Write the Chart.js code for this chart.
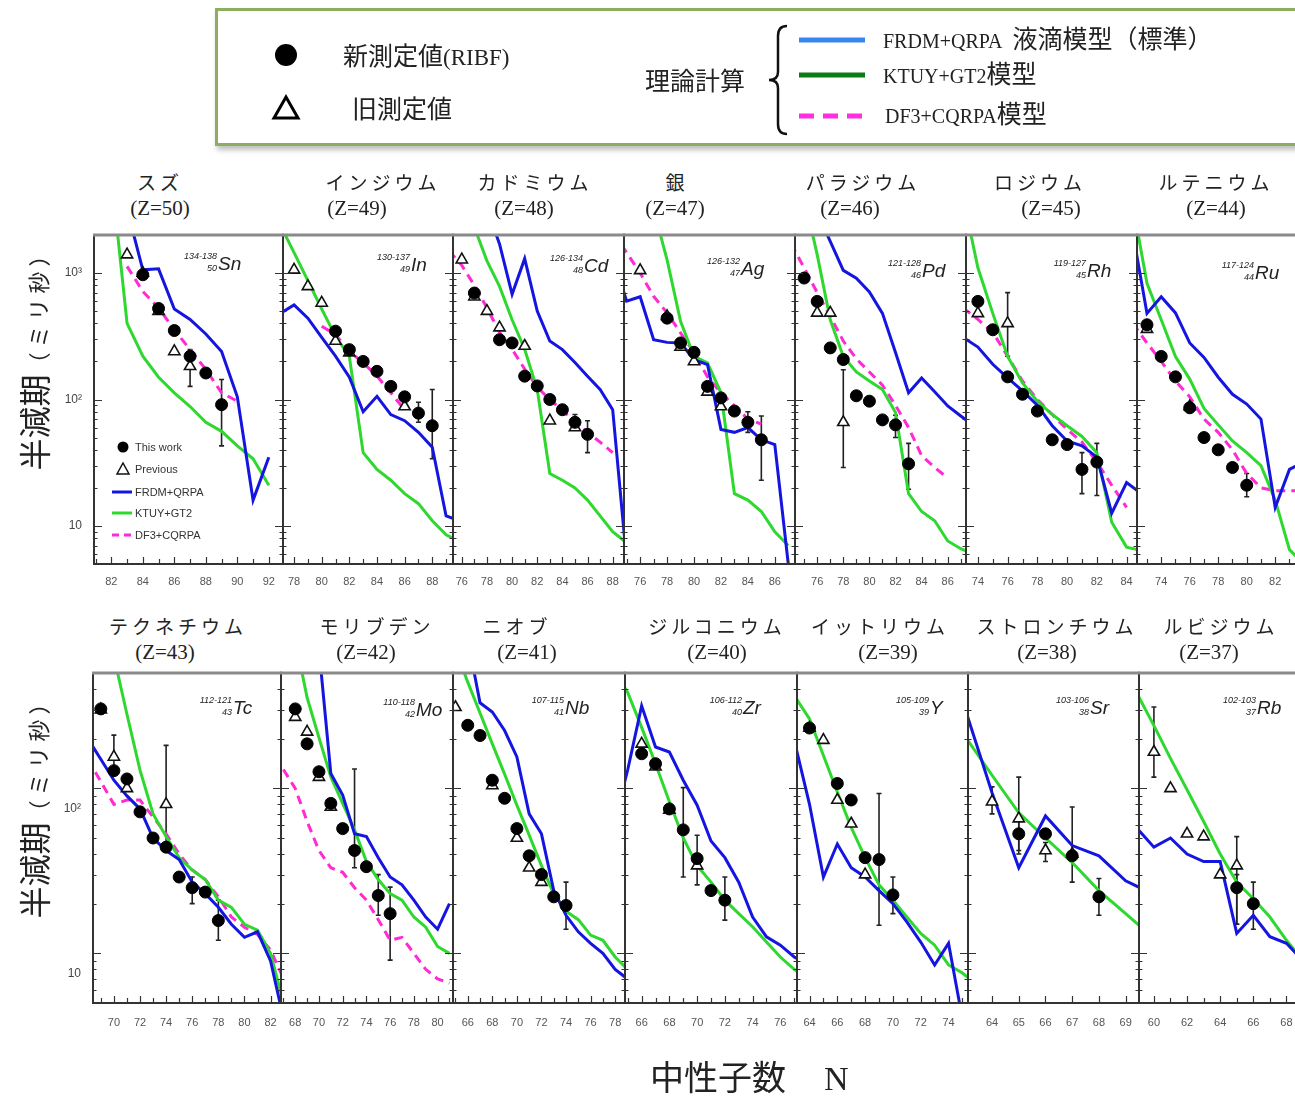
<!DOCTYPE html>
<html><head><meta charset="utf-8">
<script src="https://cdn.jsdelivr.net/npm/chart.js@4/dist/chart.umd.min.js"></script>
<style>
html,body{margin:0;padding:0;background:#fff;}
body{width:1295px;height:1096px;overflow:hidden;position:relative;font-family:"Liberation Serif","Noto Sans CJK JP",serif;color:#222;}
.t{position:absolute;white-space:nowrap;}
.jp{font-family:"Liberation Serif","Noto Sans CJK JP",serif;font-size:20px;line-height:28px;}
.jp .c{font-family:"Noto Sans CJK JP",sans-serif;font-size:25px;}
.box{position:absolute;left:215px;top:8px;width:1120px;height:132px;border:3px solid #8fad5e;box-shadow:2px 4px 5px rgba(0,0,0,0.25);}
.ttl{position:absolute;white-space:nowrap;transform:translateX(-50%);font-family:"Noto Sans CJK JP",sans-serif;font-size:19px;line-height:22px;letter-spacing:4px;color:#222;}
.ztl{position:absolute;white-space:nowrap;transform:translateX(-50%);font-family:"Liberation Serif",serif;font-size:21px;line-height:22px;color:#222;}
.iso{position:absolute;font:italic 19px "Liberation Sans",sans-serif;line-height:22px;color:#222;}
.iso .pre{position:absolute;right:100%;top:-3px;display:flex;flex-direction:column;align-items:flex-end;font-size:9px;line-height:12px;padding-right:1px;white-space:nowrap;}
.lg{position:absolute;font:11px "Liberation Sans",sans-serif;color:#333;white-space:nowrap;line-height:12px;}
canvas{position:absolute;}
</style></head>
<body>
<script>
// ---------------- DATA (N, half-life in ms) ----------------
// Sn Z=50
const snTicks=[82,84,86,88,90,92];
const snThis=[[84,970],[85,525],[86,351],[87,220],[88,162],[89,91]];
const snThisErr=[[89,43,144]];
const snPrev=[[83,1400],[84,1000],[85,500],[86,240],[87,183]];
const snPrevErr=[[87,127,248]];
const snFrdm=[[83,3200],[84,1060],[85,1080],[86,520],[87,430],[88,330],[89,240],[90,105],[91,16],[92,35]];
const snKtuy=[[82,6000],[83,400],[84,220],[85,150],[86,113],[87,88],[88,66],[89,56],[90,43],[91,34],[92,21]];
const snDf3=[[83,1130],[84,715],[85,530],[86,356],[87,248],[88,173],[89,113],[90,97]];
// In Z=49
const inTicks=[78,80,82,84,86,88];
const inThis=[[81,347],[82,248],[83,200],[84,167],[85,127],[86,105],[87,78],[88,62]];
const inThisErr=[[87,66,95],[88,34,120]];
const inPrev=[[78,1060],[79,785],[80,580],[81,290],[82,235],[86,88]];
const inPrevErr=[];
const inFrdm=[[77,480],[78,560],[79,440],[80,310],[81,220],[82,150],[83,80],[84,106],[85,76],[86,68],[87,55],[88,42],[89,12],[90,11]];
const inKtuy=[[77,2400],[78,1450],[79,870],[80,520],[81,316],[82,219],[83,38],[84,28],[85,23],[86,18],[87,15],[88,11],[89,8.5],[90,7.5]];
const inDf3=[[80,380],[81,326],[82,240],[83,195],[84,153],[85,113],[86,83]];
// Cd Z=48
const cdTicks=[76,78,80,82,84,86,88];
const cdThis=[[77,695],[79,297],[80,280],[81,153],[82,128],[83,100],[84,83],[85,66],[86,53]];
const cdThisErr=[[85,58,76],[86,38,68]];
const cdPrev=[[76,1275],[77,650],[78,500],[79,370],[81,265],[83,68],[85,60]];
const cdPrevErr=[];
const cdFrdm=[[78,3200],[79,1700],[80,680],[81,1300],[82,500],[83,290],[84,248],[85,196],[86,153],[87,120],[88,83],[89,7]];
const cdKtuy=[[77,2300],[78,1250],[79,785],[80,427],[81,250],[82,120],[83,26],[84,23],[85,20],[86,16],[87,12],[88,9],[89,7.5]];
const cdDf3=[[75,1500],[76,1150],[77,800],[78,530],[79,340],[80,250],[81,174],[82,125],[83,100],[84,82],[85,66],[86,55],[87,46],[88,38]];
// Ag Z=47
const agTicks=[76,78,80,82,84,86];
const agThis=[[78,440],[79,280],[80,236],[81,127],[82,103],[83,81],[84,66],[85,48]];
const agThisErr=[[84,55,80],[85,23,74]];
const agPrev=[[76,1050],[78,455],[79,260],[80,200],[81,115],[82,88]];
const agPrevErr=[];
const agFrdm=[[74,1300],[75,600],[76,650],[77,297],[78,283],[79,280],[80,207],[81,189],[82,58],[83,55],[84,60],[85,48],[86,44],[87,5]];
const agKtuy=[[77,3200],[78,1270],[79,415],[80,219],[81,195],[82,113],[83,18],[84,16],[85,13],[86,9],[87,7]];
const agDf3=[[74,2100],[75,1450],[76,1000],[77,655],[78,484],[79,336],[80,235],[81,151],[82,113],[83,89],[84,70],[85,64]];
// Pd Z=46
const pdTicks=[76,78,80,82,84,86];
const pdThis=[[75,913],[76,597],[77,256],[78,207],[79,107],[80,97],[81,69],[82,63],[83,31]];
const pdThisErr=[[82,50,75],[83,19.5,45]];
const pdPrev=[[76,484],[77,484],[78,66]];
const pdPrevErr=[[78,29,172]];
const pdFrdm=[[76,3000],[77,1780],[78,1050],[79,910],[80,710],[81,480],[82,235],[83,113],[84,148],[85,115],[86,89],[87,74],[88,62]];
const pdKtuy=[[75,4000],[76,1400],[77,427],[78,219],[79,165],[80,140],[81,120],[82,79],[83,18],[84,13],[85,11],[86,7.6],[87,6.6],[88,6]];
const pdDf3=[[74,1700],[75,1100],[76,700],[77,455],[78,290],[79,210],[80,165],[81,130],[82,90],[83,60],[84,36],[85,29],[86,24]];
// Rh Z=45
const rhTicks=[74,76,78,80,82,84];
const rhThis=[[74,597],[75,356],[76,151],[77,110],[78,81],[79,48],[80,44],[81,28],[82,32]];
const rhThisErr=[[81,18,38],[82,17.4,45]];
const rhPrev=[[74,480],[76,400]];
const rhPrevErr=[[76,220,700]];
const rhFrdm=[[73,310],[74,260],[75,190],[76,148],[77,117],[78,90],[79,62],[80,47],[81,43],[82,35],[83,12.6],[84,22],[85,18]];
const rhKtuy=[[73,4000],[74,1100],[75,480],[76,219],[77,135],[78,97],[79,76],[80,62],[81,51],[82,38],[83,10.7],[84,6.8],[85,6.4]];
const rhDf3=[[73,530],[74,430],[75,340],[76,220],[77,140],[78,100],[79,76],[80,58],[81,46],[82,32],[83,21],[84,14]];
// Ru Z=44
const ruTicks=[74,76,78,80,82,84];
const ruThis=[[73,390],[74,219],[75,151],[76,86],[77,50],[78,40],[79,29],[80,21]];
const ruThisErr=[[80,17,26]];
const ruPrev=[[73,360],[76,88]];
const ruPrevErr=[];
const ruFrdm=[[72,2100],[73,480],[74,650],[75,484],[76,280],[77,215],[78,150],[79,110],[80,92],[81,70],[82,14],[83,28],[84,32]];
const ruKtuy=[[72,3500],[73,830],[74,427],[75,219],[76,145],[77,85],[78,63],[79,47],[80,38],[81,30],[82,16],[83,6.5],[84,5]];
const ruDf3=[[72,400],[73,280],[74,200],[75,140],[76,105],[77,70],[78,55],[79,40],[80,26],[81,20],[82,19],[83,19],[84,19]];
// Tc Z=43
const tcTicks=[70,72,74,76,78,80,82];
const tcThis=[[69,303],[70,128],[71,114],[72,72],[73,50],[74,44],[75,29],[76,25],[77,23.5],[78,15.8]];
const tcThisErr=[[76,20,29],[78,12,21]];
const tcPrev=[[69,300],[70,155],[71,100],[74,80]];
const tcPrevErr=[[70,128,210],[74,44,182]];
const tcFrdm=[[68,200],[69,150],[70,112],[71,90],[72,75],[73,50],[74,42],[75,37],[76,27],[77,23],[78,19],[79,15],[80,12.5],[81,13.5],[82,9],[83,4]];
const tcKtuy=[[70,630],[71,281],[72,129],[73,70],[74,51],[75,38],[76,32],[77,28],[78,21],[79,19],[80,15],[81,13.8],[82,10],[83,5]];
const tcDf3=[[68,150],[69,110],[70,80],[71,85],[72,85],[73,67],[74,53],[75,40],[76,32],[77,28],[78,22],[79,16.6],[80,14.4],[81,13],[82,10.5],[83,7]];
// Mo Z=42
const moTicks=[68,70,72,74,76,78,80];
const moThis=[[68,303],[69,186],[70,126],[71,81],[72,57],[73,42],[74,33.5],[75,22.4],[76,17.4]];
const moThisErr=[[73,33,131],[75,17,30],[76,9.1,25.2]];
const moPrev=[[68,270],[69,220],[70,117],[71,77]];
const moPrevErr=[];
const moFrdm=[[70,700],[71,123],[72,91],[73,53],[74,51],[75,38],[76,29],[77,26],[78,21],[79,16.6],[80,14],[81,20]];
const moKtuy=[[68,800],[69,355],[70,203],[71,117],[72,81],[73,56],[74,36],[75,28],[76,23],[77,21],[78,16.6],[79,14.4],[80,11],[81,10]];
const moDf3=[[67,130],[68,100],[69,63],[70,42],[71,33],[72,31],[73,25],[74,21],[75,16],[76,12],[77,12.5],[78,10],[79,8],[80,7],[81,6.6]];
// Nb Z=41
const nbTicks=[66,68,70,72,74,76,78];
const nbThis=[[66,241],[67,209],[68,112],[69,87],[70,57],[71,39],[72,30],[73,22],[74,19.5]];
const nbThisErr=[[74,14,27]];
const nbPrev=[[65,310],[68,104],[70,50],[71,33],[72,27]];
const nbPrevErr=[];
const nbFrdm=[[65,3000],[66,800],[67,330],[68,290],[69,224],[70,155],[71,70],[72,53],[73,24],[74,17],[75,13.5],[76,11.5],[77,10],[78,8],[79,7]];
const nbKtuy=[[65,700],[66,440],[67,286],[68,186],[69,122],[70,79],[71,52],[72,34],[73,23],[74,18],[75,16],[76,12.9],[77,12],[78,9.5],[79,8]];
// Zr Z=40
const zrTicks=[66,68,70,72,74,76];
const zrThis=[[66,162],[67,141],[68,75],[69,56],[70,37.5],[71,24],[72,21]];
const zrThisErr=[[69,29,101],[70,26,52],[72,15.9,29]];
const zrPrev=[[66,186],[67,135],[68,74],[70,34]];
const zrPrevErr=[];
const zrFrdm=[[64,60],[65,130],[66,316],[67,178],[68,166],[69,112],[70,79],[71,48],[72,38],[73,27],[74,16.6],[75,12.6],[76,11.2],[77,9.5],[78,8.5]];
const zrKtuy=[[64,520],[65,380],[66,234],[67,141],[68,83],[69,50],[70,34],[71,27],[72,21],[73,17.4],[74,14.5],[75,11.7],[76,9.5],[77,8],[78,7]];
// Y Z=39
const yTicks=[64,66,68,70,72,74];
const yThis=[[64,232],[66,107],[67,85],[68,38],[69,37],[70,22.6]];
const yThisErr=[[69,14.8,93],[70,17.4,29]];
const yPrev=[[64,232],[65,196],[66,85],[67,61],[68,30]];
const yPrevErr=[];
const yFrdm=[[63,180],[64,80],[65,29],[66,46],[67,33],[68,29],[69,24],[70,20],[71,15.5],[72,11.7],[73,8.5],[74,11.5],[75,4]];
const yKtuy=[[63,355],[64,263],[65,158],[66,95],[67,58],[68,38],[69,26],[70,21],[71,16.6],[72,13.2],[73,11.2],[74,8.5],[75,7.6],[76,6.5]];
// Sr Z=38
const srTicks=[64,65,66,67,68,69];
const srThis=[[65,53],[66,53],[67,39],[68,22]];
const srThisErr=[[65,42,66],[68,17,28.4]];
const srPrev=[[64,83],[65,65.5],[66,42],[67,40]];
const srPrevErr=[[64,70,102],[65,40,117],[66,36,47],[67,27,77]];
const srFrdm=[[63,300],[64,94],[65,33],[66,68],[67,45],[68,39],[69,27.5],[70,23]];
const srKtuy=[[63,205],[64,120],[65,71],[66,50],[67,35.5],[68,24],[69,17.4],[70,12.6]];
// Rb Z=37
const rbTicks=[60,62,64,66,68];
const rbThis=[[65,25],[66,20]];
const rbThisErr=[[65,15,30],[66,14,27]];
const rbPrev=[[60,166],[61,100],[62,53],[63,51],[64,30],[65,34]];
const rbPrevErr=[[60,117,311],[65,15,51]];
const rbFrdm=[[59,57],[60,44],[61,50],[62,40],[63,36],[64,36],[65,13.2],[66,17],[67,12.6],[68,11.5],[69,9]];
const rbKtuy=[[59,372],[60,240],[61,152],[62,98],[63,63],[64,40],[65,27],[66,21.4],[67,16.6],[68,12],[69,9]];

// ---------------- LAYOUT ----------------
const ROWS=[
  {top:235,h:329,min:5,max:2000,yl:[10,100,1000],off:0,xpad:11,nameY:171,zY:197},
  {top:673,h:330,min:5,max:500,yl:[10,100],off:20,xpad:13,nameY:615,zY:641}
];
const YLAB={10:'10',100:'10²',1000:'10³'};
const PANELS=[
 {row:0,first:true,left:94,right:283,xmin:80.9,xmax:92.9,xt:snTicks,th:snThis,the:snThisErr,pr:snPrev,pre:snPrevErr,fr:snFrdm,kt:snKtuy,df:snDf3,name:'スズ',z:'(Z=50)',nx:160,zx:160,sym:'Sn',mass:'134-138',zz:'50',sx:218,sy:253},
 {row:0,left:283,right:453,xmin:77.2,xmax:89.5,xt:inTicks,th:inThis,the:inThisErr,pr:inPrev,pre:inPrevErr,fr:inFrdm,kt:inKtuy,df:inDf3,name:'インジウム',z:'(Z=49)',nx:383,zx:357,sym:'In',mass:'130-137',zz:'49',sx:411,sy:254},
 {row:0,left:453,right:624,xmin:75.3,xmax:88.9,xt:cdTicks,th:cdThis,the:cdThisErr,pr:cdPrev,pre:cdPrevErr,fr:cdFrdm,kt:cdKtuy,df:cdDf3,name:'カドミウム',z:'(Z=48)',nx:535,zx:524,sym:'Cd',mass:'126-134',zz:'48',sx:584,sy:255},
 {row:0,left:624,right:795,xmin:74.8,xmax:87.5,xt:agTicks,th:agThis,the:agThisErr,pr:agPrev,pre:agPrevErr,fr:agFrdm,kt:agKtuy,df:agDf3,name:'銀',z:'(Z=47)',nx:677,zx:675,sym:'Ag',mass:'126-132',zz:'47',sx:741,sy:258},
 {row:0,left:795,right:966,xmin:74.3,xmax:87.4,xt:pdTicks,th:pdThis,the:pdThisErr,pr:pdPrev,pre:pdPrevErr,fr:pdFrdm,kt:pdKtuy,df:pdDf3,name:'パラジウム',z:'(Z=46)',nx:863,zx:850,sym:'Pd',mass:'121-128',zz:'46',sx:922,sy:260},
 {row:0,left:966,right:1137,xmin:73.2,xmax:84.7,xt:rhTicks,th:rhThis,the:rhThisErr,pr:rhPrev,pre:rhPrevErr,fr:rhFrdm,kt:rhKtuy,df:rhDf3,name:'ロジウム',z:'(Z=45)',nx:1040,zx:1051,sym:'Rh',mass:'119-127',zz:'45',sx:1087,sy:260},
 {row:0,left:1137,right:1308,xmin:72.3,xmax:84.3,xt:ruTicks,th:ruThis,the:ruThisErr,pr:ruPrev,pre:ruPrevErr,fr:ruFrdm,kt:ruKtuy,df:ruDf3,name:'ルテニウム',z:'(Z=44)',nx:1216,zx:1216,sym:'Ru',mass:'117-124',zz:'44',sx:1255,sy:262},
 {row:1,first:true,left:93,right:281,xmin:68.4,xmax:82.8,xt:tcTicks,th:tcThis,the:tcThisErr,pr:tcPrev,pre:tcPrevErr,fr:tcFrdm,kt:tcKtuy,df:tcDf3,name:'テクネチウム',z:'(Z=43)',nx:178,zx:165,sym:'Tc',mass:'112-121',zz:'43',sx:233,sy:697},
 {row:1,left:281,right:453,xmin:66.8,xmax:81.3,xt:moTicks,th:moThis,the:moThisErr,pr:moPrev,pre:moPrevErr,fr:moFrdm,kt:moKtuy,df:moDf3,name:'モリブデン',z:'(Z=42)',nx:377,zx:366,sym:'Mo',mass:'110-118',zz:'42',sx:416,sy:699},
 {row:1,left:453,right:625,xmin:64.8,xmax:78.8,xt:nbTicks,th:nbThis,the:nbThisErr,pr:nbPrev,pre:nbPrevErr,fr:nbFrdm,kt:nbKtuy,df:[],name:'ニオブ',z:'(Z=41)',nx:517,zx:527,sym:'Nb',mass:'107-115',zz:'41',sx:565,sy:697},
 {row:1,left:625,right:797,xmin:64.8,xmax:77.2,xt:zrTicks,th:zrThis,the:zrThisErr,pr:zrPrev,pre:zrPrevErr,fr:zrFrdm,kt:zrKtuy,df:[],name:'ジルコニウム',z:'(Z=40)',nx:717,zx:717,sym:'Zr',mass:'106-112',zz:'40',sx:743,sy:697},
 {row:1,left:797,right:968,xmin:63.1,xmax:75.4,xt:yTicks,th:yThis,the:yThisErr,pr:yPrev,pre:yPrevErr,fr:yFrdm,kt:yKtuy,df:[],name:'イットリウム',z:'(Z=39)',nx:880,zx:888,sym:'Y',mass:'105-109',zz:'39',sx:930,sy:697},
 {row:1,left:968,right:1139,xmin:63.1,xmax:69.5,xt:srTicks,th:srThis,the:srThisErr,pr:srPrev,pre:srPrevErr,fr:srFrdm,kt:srKtuy,df:[],name:'ストロンチウム',z:'(Z=38)',nx:1057,zx:1047,sym:'Sr',mass:'103-106',zz:'38',sx:1090,sy:697},
 {row:1,left:1139,right:1308,xmin:59.1,xmax:69.3,xt:rbTicks,th:rbThis,the:rbThisErr,pr:rbPrev,pre:rbPrevErr,fr:rbFrdm,kt:rbKtuy,df:[],name:'ルビジウム',z:'(Z=37)',nx:1221,zx:1209,sym:'Rb',mass:'102-103',zz:'37',sx:1257,sy:697}
];

const pts=a=>a.map(([x,y])=>({x,y}));

const errPlugin={id:'errbars',beforeDatasetsDraw(chart){
  const {ctx,chartArea:a,scales:{x,y}}=chart;
  ctx.save();ctx.beginPath();ctx.rect(a.left,a.top,a.width,a.height);ctx.clip();
  ctx.strokeStyle='#222';ctx.lineWidth=1.6;
  chart.data.datasets.forEach(ds=>{(ds.errs||[]).forEach(([n,lo,hi])=>{
    const px=x.getPixelForValue(n),y1=y.getPixelForValue(lo),y2=y.getPixelForValue(hi);
    ctx.beginPath();ctx.moveTo(px,y1);ctx.lineTo(px,y2);
    ctx.moveTo(px-2.5,y1);ctx.lineTo(px+2.5,y1);ctx.moveTo(px-2.5,y2);ctx.lineTo(px+2.5,y2);ctx.stroke();
  });});
  ctx.restore();
}};
const framePlugin={id:'frame',afterDraw(chart){
  const {ctx,chartArea:a,scales:{x,y}}=chart;
  ctx.save();ctx.strokeStyle='#333';ctx.lineWidth=1.2;
  for(let n=Math.ceil(x.min);n<=Math.floor(x.max);n++){
    const px=Math.round(x.getPixelForValue(n))+0.5;
    const L=x.ticks.some(t=>t.value===n)?7:5;
    ctx.beginPath();ctx.moveTo(px,a.bottom);ctx.lineTo(px,a.bottom-L);ctx.stroke();
  }
  const e0=Math.floor(Math.log10(y.min)),e1=Math.ceil(Math.log10(y.max));
  for(let e=e0;e<=e1;e++)for(let k=1;k<10;k++){
    const v=k*Math.pow(10,e);if(v<y.min||v>y.max)continue;
    const py=Math.round(y.getPixelForValue(v))+0.5,L=k===1?8:3.5;
    ctx.beginPath();ctx.moveTo(a.left,py);ctx.lineTo(a.left+L,py);ctx.moveTo(a.right,py);ctx.lineTo(a.right-L,py);ctx.stroke();
  }
  ctx.lineWidth=2;ctx.strokeStyle='#333';
  ctx.beginPath();ctx.moveTo(a.left,a.top);ctx.lineTo(a.left,a.bottom);ctx.lineTo(a.right,a.bottom);ctx.lineTo(a.right,a.top);ctx.stroke();
  ctx.lineWidth=3;ctx.strokeStyle='#8a8a8a';
  ctx.beginPath();ctx.moveTo(a.left-1,a.top);ctx.lineTo(a.right+1,a.top);ctx.stroke();
  ctx.restore();
}};

function buildPanel(p){
  const row=ROWS[p.row];
  const W=p.right-p.left,H=row.h;
  const padL=p.first?54:2,padT=3,padR=2,padB=30;
  const cv=document.createElement('canvas');
  cv.width=padL+W+padR;cv.height=padT+H+padB;
  cv.style.left=(p.left-padL)+'px';cv.style.top=(row.top-padT)+'px';
  cv.style.width=cv.width+'px';cv.style.height=cv.height+'px';
  document.body.appendChild(cv);
  const datasets=[
    {label:'This work',data:pts(p.th),errs:p.the,pointStyle:'circle',pointRadius:6,backgroundColor:'#000',borderColor:'#000',borderWidth:1},
    {label:'Previous',data:pts(p.pr),errs:p.pre,pointStyle:'triangle',pointRadius:6.5,backgroundColor:'#fff',borderColor:'#111',borderWidth:1.6},
    {label:'FRDM+QRPA',data:pts(p.fr),showLine:true,pointRadius:0,borderColor:'#1515e0',borderWidth:3,tension:0},
    {label:'KTUY+GT2',data:pts(p.kt),showLine:true,pointRadius:0,borderColor:'#2fd82f',borderWidth:3,tension:0},
    {label:'DF3+CQRPA',data:pts(p.df),showLine:true,pointRadius:0,borderColor:'#ff2ad4',borderWidth:3,borderDash:[9,6],tension:0}
  ];
  new Chart(cv,{type:'scatter',data:{datasets},
    options:{responsive:false,animation:false,devicePixelRatio:1,
      layout:{autoPadding:false,padding:{left:0,right:padR,top:padT,bottom:0}},
      plugins:{legend:{display:false},tooltip:{enabled:false},title:{display:false}},
      scales:{
        x:{type:'linear',min:p.xmin,max:p.xmax,offset:false,grid:{display:false,drawTicks:false},border:{display:false},
          afterFit(s){s.height=padB;s.paddingLeft=0;s.paddingRight=0;},afterBuildTicks(s){s.ticks=p.xt.map(v=>({value:v}));},
          ticks:{autoSkip:false,maxRotation:0,padding:row.xpad,color:'#555',font:{family:'Liberation Sans',size:11},callback:v=>String(v)}},
        y:{type:'logarithmic',min:row.min,max:row.max,grid:{display:false,drawTicks:false},border:{display:false},
          afterFit(s){s.width=padL;s.paddingTop=0;s.paddingBottom=0;},afterBuildTicks(s){s.ticks=row.yl.map(v=>({value:v}));},
          ticks:{display:!!p.first,autoSkip:false,padding:12,labelOffset:row.off,color:'#444',font:{family:'Liberation Sans',size:12},callback:v=>YLAB[v]||''}}
      }},
    plugins:[errPlugin,framePlugin]});
  const n=document.createElement('div');n.className='ttl';n.style.left=p.nx+'px';n.style.top=row.nameY+'px';n.textContent=p.name;document.body.appendChild(n);
  const z=document.createElement('div');z.className='ztl';z.style.left=p.zx+'px';z.style.top=row.zY+'px';z.textContent=p.z;document.body.appendChild(z);
  const iso=document.createElement('div');iso.className='iso';iso.style.left=p.sx+'px';iso.style.top=p.sy+'px';
  iso.innerHTML='<span class="pre"><span>'+p.mass+'</span><span>'+p.zz+'</span></span>'+p.sym;
  document.body.appendChild(iso);
}
PANELS.forEach(buildPanel);
</script>

<div class="box"></div>
<svg style="position:absolute;left:0;top:0;pointer-events:none" width="1295" height="1096">
  <circle cx="286" cy="55" r="11" fill="#000"/>
  <polygon points="286,97 274,118 298,118" fill="#fff" stroke="#000" stroke-width="3"/>
  <path d="M787 26 Q778 26 778 36 L778 72 Q778 80 769 80 Q778 80 778 88 L778 124 Q778 134 787 134" fill="none" stroke="#111" stroke-width="2.5"/>
  <line x1="799" y1="40" x2="865" y2="40" stroke="#3a86f0" stroke-width="5"/>
  <line x1="799" y1="75" x2="865" y2="75" stroke="#0c7c12" stroke-width="5"/>
  <line x1="799" y1="116" x2="865" y2="116" stroke="#ff2ee0" stroke-width="5" stroke-dasharray="15 9"/>
  <circle cx="123" cy="447" r="5.5" fill="#000"/>
  <polygon points="123,463 117,474 129,474" fill="#fff" stroke="#111" stroke-width="1.5"/>
  <line x1="112" y1="492" x2="132" y2="492" stroke="#1515e0" stroke-width="3"/>
  <line x1="112" y1="513" x2="132" y2="513" stroke="#2fd82f" stroke-width="3"/>
  <line x1="112" y1="535" x2="132" y2="535" stroke="#ff2ad4" stroke-width="3" stroke-dasharray="7 5"/>
</svg>
<div class="t jp" style="left:343px;top:40px;"><span class="c">新測定値</span><span style="font-size:23px;">(RIBF)</span></div>
<div class="t jp" style="left:352px;top:93px;"><span class="c">旧測定値</span></div>
<div class="t jp" style="left:645px;top:65px;"><span class="c">理論計算</span></div>
<div class="t jp" style="left:883px;top:23px;">FRDM+QRPA&nbsp; <span class="c">液滴模型（標準）</span></div>
<div class="t jp" style="left:883px;top:58px;">KTUY+GT2<span class="c">模型</span></div>
<div class="t jp" style="left:885px;top:98px;">DF3+CQRPA<span class="c">模型</span></div>

<div class="lg" style="left:135px;top:441px;">This work</div>
<div class="lg" style="left:135px;top:463px;">Previous</div>
<div class="lg" style="left:135px;top:486px;">FRDM+QRPA</div>
<div class="lg" style="left:135px;top:507px;">KTUY+GT2</div>
<div class="lg" style="left:135px;top:529px;">DF3+CQRPA</div>

<div class="t" style="left:33px;top:355px;transform:translate(-50%,-50%) rotate(-90deg);font-family:'Noto Sans CJK JP',sans-serif;color:#222;"><span style="font-size:32px;">半減期</span><span style="font-size:22px;letter-spacing:5px;">（ミリ秒）</span></div>
<div class="t" style="left:33px;top:803px;transform:translate(-50%,-50%) rotate(-90deg);font-family:'Noto Sans CJK JP',sans-serif;color:#222;"><span style="font-size:32px;">半減期</span><span style="font-size:22px;letter-spacing:5px;">（ミリ秒）</span></div>
<div class="t" style="left:650px;top:1057px;font-size:34px;line-height:38px;font-family:'Noto Sans CJK JP',sans-serif;color:#222;">中性子数<span style="font-family:'Liberation Serif',serif;margin-left:38px;">N</span></div>
</body></html>
